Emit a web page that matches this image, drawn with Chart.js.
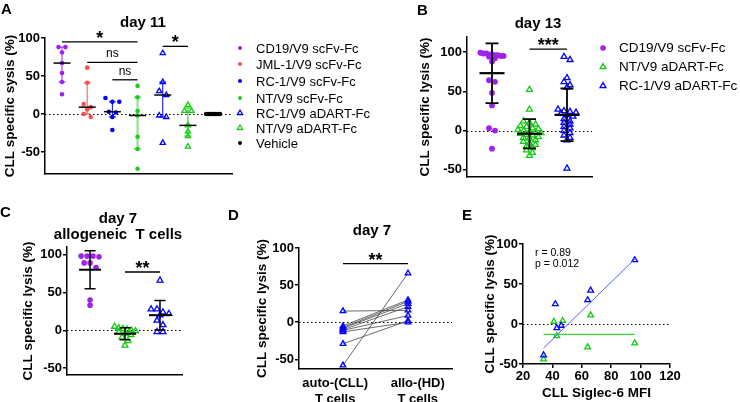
<!DOCTYPE html>
<html>
<head>
<meta charset="utf-8">
<script src="https://cdn.jsdelivr.net/npm/chart.js@4.4.0/dist/chart.umd.min.js"></script>
<style>
  body { margin: 0; background: #fff; font-family: "Liberation Sans", Arial, sans-serif; }
  #wrap { position: relative; width: 740px; height: 402px; overflow: hidden; }
  #wrap canvas { position: absolute; left: 0; top: 0; }
  .t { position: absolute; line-height: 1; white-space: pre; color: #000; transform: translateY(-50%); }
  .c { transform: translate(-50%, -50%); }
  .letter { font-size: 15px; font-weight: bold; }
  .title { font-size: 15px; font-weight: bold; }
  .leg { font-size: 13px; }
  .note { font-size: 10.5px; }
  svg.mk { position: absolute; overflow: visible; }
</style>
</head>
<body>
<div id="wrap">
  <canvas id="chartA" width="740" height="402"></canvas>
  <canvas id="chartB" width="740" height="402"></canvas>
  <canvas id="chartC" width="740" height="402"></canvas>
  <canvas id="chartD" width="740" height="402"></canvas>
  <canvas id="chartE" width="740" height="402"></canvas>

  <div class="t letter" style="left:1px;top:8px">A</div>
  <div class="t letter" style="left:417px;top:9px">B</div>
  <div class="t letter" style="left:0px;top:211px">C</div>
  <div class="t letter" style="left:228px;top:214px">D</div>
  <div class="t letter" style="left:462px;top:214px">E</div>

  <div class="t c title" style="left:143px;top:21px">day 11</div>
  <div class="t c title" style="left:538px;top:22px">day 13</div>
  <div class="t c title" style="left:118px;top:217px">day 7</div>
  <div class="t c title" style="left:118px;top:233px">allogeneic  T cells</div>
  <div class="t c title" style="left:372px;top:229px">day 7</div>

  <div class="t note" style="left:535px;top:252px">r = 0.89</div>
  <div class="t note" style="left:535px;top:263px">p = 0.012</div>
</div>
<script>
// Dados - painel A (day 11, mediana e intervalo interquartil)
const aGroups = ["CD19/V9 scFv-Fc", "JML-1/V9 scFv-Fc", "RC-1/V9 scFv-Fc", "NT/V9 scFv-Fc",
  "RC-1/V9 aDART-Fc", "NT/V9 aDART-Fc", "Vehicle"];
const aCD19 = [88, 88, 81, 67, 54, 42, 26];
const aJML1 = [61, 41, 13, 9, 6, 0, -4];
const aRC1 = [21, 16, 16, 3, 2, -4, -21];
const aNT = [37, 22, 4, -2, -30, -46, -72];
const aRC1Dart = [80, 42, 30, 25, -2, -4, -38];
const aNTDart = [12, 4, 4, -15, -23, -29, -43];
const aVehicle = [0, 0, 0, 0, 0, 0, 0];
const aMedian = [67, 9, 3, -2, 25, -15, 0];
const aQ1 = [42, 0, -4, -46, -4, -29, 0];
const aQ3 = [88, 41, 16, 22, 42, 8, 0];
const aYTicks = [-50, 0, 50, 100];

// painel B (day 13, média e desvio padrão)
const bGroups = ["CD19/V9 scFv-Fc", "NT/V9 aDART-Fc", "RC-1/V9 aDART-Fc"];
const bCD19 = [99, 98, 98, 97, 97, 96, 96, 95, 95, 94, 92, 88, 64, 62, 48, 32, 3, 0, -23];
const bNTDart = [52, 27, 12, 10, 8, 6, 5, 3, 2, 1, 0, -1, -2, -3, -4, -5, -6, -8, -9, -10,
  -12, -14, -16, -18, -20, -22, -25, -28, -32];
const bRC1Dart = [94, 90, 67, 62, 58, 55, 27, 25, 24, 23, 22, 20, 18, 15, 12, 10, 8, 5, 3, 0,
  -3, -6, -9, -12, -48];
const bMean = [73, -4, 20];
const bSD = [38, 18.5, 33.5];
const bYTicks = [-50, 0, 50, 100];

// painel C (day 7, allogeneic T cells)
const cCD19 = [98, 98, 97, 98, 89, 89, 83, 40, 33];
const cNTDart = [5, 3, 2, 1, 0, -1, -2, -4, -6, -9, -14, -20];
const cRC1Dart = [66, 28, 28, 24, 22, 20, 13, 7, -2, -2];
const cMean = [80, -4.5, 20];
const cSD = [25, 8, 19.5];
const cYTicks = [-50, 0, 50, 100];

// painel D (day 7, pares auto x allo)
const dCats = [["auto-(CLL)", "T cells"], ["allo-(HD)", "T cells"]];
const dAuto = [15, -5, -7, -8, -10, -11, -13, -29, -58];
const dAllo = [16, 30, 28, 25, 21, 9, 0, 2, 66];
const dYTicks = [-50, 0, 50, 100];

// painel E (Siglec-6 MFI x lise)
const eMfiRC1 = [34, 42, 43, 46, 64, 66, 96];
const eLysisRC1 = [-39, 25, -5, -2, 30, 42, 80];
const eMfiNT = [34, 41, 43, 47, 64, 66, 96];
const eLysisNT = [-44, 3, -15, 4, -29, 11, -24];
const eFitRC1 = [[34, -30], [96, 81]];
const eFitNT = [[34, -13], [96, -13]];
const eXTicks = [20, 40, 60, 80, 100, 120];
const eYTicks = [-50, 0, 50, 100];

// Cores
const PURPLE = "#a020f0", RED = "#ff4d4d", BLUE = "#0000ff", GREEN = "#22c922", GREEN_T = "#11cc11";
const FONT = "'Liberation Sans', Arial, sans-serif";
const W = 740, H = 402;

Chart.defaults.font.family = FONT;
Chart.defaults.color = "#000";

// espalha pontos com valores próximos (estilo scatter dot plot)
function swarm(values, center, tol, step, maxSpan) {
  const sorted = values.slice().sort((a, b) => b - a);
  const rows = [];
  sorted.forEach(v => {
    const row = rows[rows.length - 1];
    if (row && row[0] - v < tol) row.push(v);
    else rows.push([v]);
  });
  const pts = [];
  rows.forEach(row => {
    const st = row.length > 1 ? Math.min(step, maxSpan / (row.length - 1)) : 0;
    row.forEach((v, i) => pts.push({ x: center + (i - (row.length - 1) / 2) * st, y: v }));
  });
  return pts;
}

const zeroLine = {
  id: "zeroLine",
  beforeDatasetsDraw(chart) {
    const { ctx, chartArea: a, scales: { y } } = chart;
    const py = Math.round(y.getPixelForValue(0)) + 0.5;
    ctx.save();
    ctx.setLineDash([1.5, 2.5]);
    ctx.strokeStyle = "#000";
    ctx.lineWidth = 1;
    ctx.beginPath();
    ctx.moveTo(a.left, py);
    ctx.lineTo(a.right, py);
    ctx.stroke();
    ctx.restore();
  }
};

const errorBars = {
  id: "errorBars",
  afterDatasetsDraw(chart, args, o) {
    const { ctx, scales: { x, y } } = chart;
    (o.items || []).forEach(b => {
      const cx = x.getPixelForValue(b.x);
      const lo = y.getPixelForValue(b.lo), hi = y.getPixelForValue(b.hi), m = y.getPixelForValue(b.mid);
      ctx.save();
      ctx.strokeStyle = b.color;
      ctx.lineWidth = b.lw;
      ctx.beginPath();
      ctx.moveTo(cx, lo); ctx.lineTo(cx, hi);
      ctx.moveTo(cx - b.cap, lo); ctx.lineTo(cx + b.cap, lo);
      ctx.moveTo(cx - b.cap, hi); ctx.lineTo(cx + b.cap, hi);
      ctx.stroke();
      ctx.strokeStyle = b.midColor;
      ctx.lineWidth = b.midLw;
      ctx.beginPath();
      ctx.moveTo(cx - b.half, m); ctx.lineTo(cx + b.half, m);
      ctx.stroke();
      ctx.restore();
    });
  }
};

const sigBars = {
  id: "sigBars",
  afterDraw(chart, args, o) {
    const { ctx, scales: { x, y } } = chart;
    (o.items || []).forEach(s => {
      const x1 = x.getPixelForValue(s.from), x2 = x.getPixelForValue(s.to), py = y.getPixelForValue(s.y);
      ctx.save();
      ctx.strokeStyle = "#000";
      ctx.lineWidth = 1.3;
      ctx.beginPath();
      ctx.moveTo(x1, py); ctx.lineTo(x2, py);
      ctx.stroke();
      const stars = s.text.startsWith("*");
      ctx.font = stars ? "bold 18px " + FONT : "12px " + FONT;
      ctx.textAlign = "center";
      ctx.textBaseline = "alphabetic";
      ctx.fillStyle = "#000";
      ctx.fillText(s.text, (x1 + x2) / 2, stars ? py + 2 : py - 5);
      ctx.restore();
    });
  }
};

function yAxis(min, max, ticks, title, width, titlePad) {
  return {
    type: "linear", min, max,
    afterBuildTicks: s => { s.ticks = ticks.map(v => ({ value: v })); },
    afterFit: s => { s.width = width; },
    ticks: { font: { size: 13, weight: "bold" }, color: "#000", padding: 1 },
    grid: { drawOnChartArea: false, drawTicks: true, tickLength: 4, color: "#000", lineWidth: 1.5 },
    border: { color: "#000", width: 1.5 },
    title: { display: true, text: title, color: "#000", font: { size: 13.5, weight: "bold" },
      padding: { top: titlePad, bottom: 0 } }
  };
}

function xBare(min, max) {
  return {
    type: "linear", min, max,
    ticks: { display: false },
    grid: { display: false },
    border: { color: "#000", width: 1.5 },
    afterFit: s => { s.height = 0; }
  };
}

function layoutPad(box) {
  return { left: box.l - box.yW, top: box.t, right: W - box.r, bottom: H - box.b - box.xH };
}

function dots(label, pts, color, shape, r) {
  return {
    type: "scatter", label, data: pts, clip: false,
    pointStyle: shape, pointRadius: r, pointHoverRadius: r,
    backgroundColor: shape === "triangle" ? "rgba(255,255,255,0)" : color,
    borderColor: color, borderWidth: shape === "triangle" ? 1.3 : 0
  };
}

function baseOptions(box, scales, plug) {
  return {
    responsive: false, animation: false, devicePixelRatio: 1,
    layout: { padding: layoutPad(box) },
    scales,
    plugins: Object.assign({ legend: { display: false }, tooltip: { enabled: false } }, plug)
  };
}

// ---------- Painel A ----------
const aSets = [aCD19, aJML1, aRC1, aNT, aRC1Dart, aNTDart, aVehicle];
const aColors = [PURPLE, RED, BLUE, GREEN, BLUE, GREEN_T, "#000"];
const aShapes = ["circle", "circle", "circle", "circle", "triangle", "triangle", "circle"];
const aBarColors = [PURPLE, RED, BLUE, "rgba(34,201,34,0.5)", BLUE, GREEN_T, "#000"];
const aBox = { l: 45, r: 232, t: 38, b: 174, yW: 45, xH: 0 };

new Chart(document.getElementById("chartA"), {
  type: "scatter",
  data: {
    datasets: aSets.map((vals, i) => dots(aGroups[i], swarm(vals, i, 6, 0.28, 0.55),
      aColors[i], aShapes[i], aShapes[i] === "triangle" ? 3 : 2.3))
  },
  options: baseOptions(aBox, {
    x: xBare(-0.675, 6.75),
    y: yAxis(-79, 100, aYTicks, "CLL specific sysis (%)", aBox.yW, 2)
  }, {
    errorBars: {
      items: aMedian.map((m, i) => ({ x: i, mid: m, lo: aQ1[i], hi: aQ3[i], color: aBarColors[i],
        lw: i === 3 ? 2.2 : 1, cap: 3.5, half: 8.5, midColor: "#000", midLw: 1.5 }))
    },
    sigBars: {
      items: [
        { from: 0, to: 3, y: 95, text: "*" },
        { from: 1, to: 3, y: 68, text: "ns" },
        { from: 2, to: 3, y: 45, text: "ns" },
        { from: 4, to: 5, y: 89, text: "*" }
      ]
    }
  }),
  plugins: [zeroLine, errorBars, sigBars]
});

// ---------- Painel B ----------
const bSets = [bCD19, bNTDart, bRC1Dart];
const bColors = [PURPLE, GREEN_T, BLUE];
const bShapes = ["circle", "triangle", "triangle"];
const bBox = { l: 467, r: 592, t: 37, b: 177, yW: 52, xH: 0 };

new Chart(document.getElementById("chartB"), {
  type: "scatter",
  data: {
    datasets: bSets.map((vals, i) => dots(bGroups[i], swarm(vals, i, 5, 0.16, 0.62),
      bColors[i], bShapes[i], bShapes[i] === "triangle" ? 3.4 : 2.9))
  },
  options: baseOptions(bBox, {
    x: xBare(-0.667, 2.667),
    y: yAxis(-59, 119, bYTicks, "CLL specific lysis (%)", bBox.yW, 2)
  }, {
    errorBars: {
      items: bMean.map((m, i) => ({ x: i, mid: m, lo: m - bSD[i], hi: m + bSD[i], color: "#000",
        lw: 1.8, cap: 6.5, half: 12.5, midColor: "#000", midLw: 2.2 }))
    },
    sigBars: { items: [{ from: 1, to: 2, y: 103.5, text: "***" }] }
  }),
  plugins: [zeroLine, errorBars, sigBars]
});

// ---------- Painel C ----------
const cSets = [cCD19, cNTDart, cRC1Dart];
const cBox = { l: 67, r: 182, t: 247, b: 375, yW: 47, xH: 0 };

new Chart(document.getElementById("chartC"), {
  type: "scatter",
  data: {
    datasets: cSets.map((vals, i) => dots(bGroups[i], swarm(vals, i, 7, 0.17, 0.6),
      bColors[i], bShapes[i], bShapes[i] === "triangle" ? 3.4 : 2.8))
  },
  options: baseOptions(cBox, {
    x: xBare(-0.66, 2.63),
    y: yAxis(-59, 110, cYTicks, "CLL specific lysis (%)", cBox.yW, 0)
  }, {
    errorBars: {
      items: cMean.map((m, i) => ({ x: i, mid: m, lo: m - cSD[i], hi: m + cSD[i], color: "#000",
        lw: 1.5, cap: 5.5, half: 11, midColor: "#000", midLw: 2 }))
    },
    sigBars: { items: [{ from: 1, to: 2, y: 77, text: "**" }] }
  }),
  plugins: [zeroLine, errorBars, sigBars]
});

// ---------- Painel D ----------
const dBox = { l: 299, r: 452, t: 248, b: 369, yW: 45, xH: 33 };
const dLabelPos = [-0.12, 1.15];

new Chart(document.getElementById("chartD"), {
  type: "scatter",
  data: {
    datasets: dAuto.map((v, i) => ({
      type: "scatter", showLine: true, clip: false,
      data: [{ x: 0, y: v }, { x: 1, y: dAllo[i] }],
      borderColor: "#444", borderWidth: 0.8,
      pointStyle: "triangle", pointRadius: 3.2, pointHoverRadius: 3.2,
      pointBorderColor: BLUE, pointBackgroundColor: "rgba(255,255,255,0)", pointBorderWidth: 1.3
    }))
  },
  options: baseOptions(dBox, {
    x: {
      type: "linear", min: -0.677, max: 1.677,
      afterBuildTicks: s => { s.ticks = dLabelPos.map(v => ({ value: v })); },
      afterFit: s => { s.height = dBox.xH; },
      ticks: { autoSkip: false, maxRotation: 0, padding: -1, color: "#000",
        font: { size: 13, weight: "bold" }, callback: (v, i) => dCats[i] },
      grid: { display: false },
      border: { color: "#000", width: 1.5 }
    },
    y: yAxis(-63, 100, dYTicks, "CLL specific lysis (%)", dBox.yW, 0)
  }, {
    sigBars: { items: [{ from: 0, to: 1, y: 79, text: "**" }] }
  }),
  plugins: [zeroLine, sigBars]
});

// ---------- Painel E ----------
const eBox = { l: 523, r: 670, t: 244, b: 364, yW: 41, xH: 38 };
const toXY = (xs, ys) => xs.map((x, i) => ({ x, y: ys[i] }));
const fitXY = f => f.map(p => ({ x: p[0], y: p[1] }));

new Chart(document.getElementById("chartE"), {
  type: "scatter",
  data: {
    datasets: [
      { type: "scatter", showLine: true, data: fitXY(eFitRC1), borderColor: "#4a63ff", borderWidth: 1,
        pointRadius: 0, clip: false },
      { type: "scatter", showLine: true, data: fitXY(eFitNT), borderColor: "#3ad63a", borderWidth: 1.2,
        pointRadius: 0, clip: false },
      dots("RC-1/V9 aDART-Fc", toXY(eMfiRC1, eLysisRC1), BLUE, "triangle", 3.3),
      dots("NT/V9 aDART-Fc", toXY(eMfiNT, eLysisNT), GREEN_T, "triangle", 3.3)
    ]
  },
  options: baseOptions(eBox, {
    x: {
      type: "linear", min: 20, max: 120,
      afterBuildTicks: s => { s.ticks = eXTicks.map(v => ({ value: v })); },
      afterFit: s => { s.height = eBox.xH; },
      ticks: { padding: 1, color: "#000", font: { size: 13, weight: "bold" } },
      grid: { drawOnChartArea: false, drawTicks: true, tickLength: 4, color: "#000", lineWidth: 1.5 },
      border: { color: "#000", width: 1.5 },
      title: { display: true, text: "CLL Siglec-6 MFI", color: "#000", font: { size: 13.5, weight: "bold" },
        padding: { top: 0, bottom: 1 } }
    },
    y: yAxis(-50, 100, eYTicks, "CLL specific lysis (%)", eBox.yW, 0)
  }, {}),
  plugins: [zeroLine]
});

// ---------- Legendas ----------
function marker(shape, color, x, y, r) {
  if (shape === "circle") {
    return `<svg class="mk" style="left:${x}px;top:${y}px" width="1" height="1">` +
      `<circle cx="0" cy="0" r="${r}" fill="${color}"/></svg>`;
  }
  const s = r * Math.sin(Math.PI / 3), hh = r * 0.5;
  return `<svg class="mk" style="left:${x}px;top:${y}px" width="1" height="1">` +
    `<polygon points="0,${-r} ${s},${hh} ${-s},${hh}" fill="none" stroke="${color}" stroke-width="1.3"/></svg>`;
}

function legend(labels, colors, shapes, mx, tx, ys, fs, rc, rt) {
  const wrap = document.getElementById("wrap");
  let html = "";
  labels.forEach((lab, i) => {
    html += marker(shapes[i], colors[i], mx, ys[i], shapes[i] === "circle" ? rc : rt);
    html += `<div class="t leg" style="left:${tx}px;top:${ys[i]}px;font-size:${fs}px">${lab}</div>`;
  });
  wrap.insertAdjacentHTML("beforeend", html);
}

legend(aGroups, aColors, aShapes, 240, 256, [48.3, 64.3, 81, 97.7, 112.7, 127.7, 143.3], 13, 2, 3);
legend(bGroups, bColors, bShapes, 603, 619, [47.7, 66.7, 85.7], 13.5, 2.8, 3.4);
</script>
</body>
</html>
